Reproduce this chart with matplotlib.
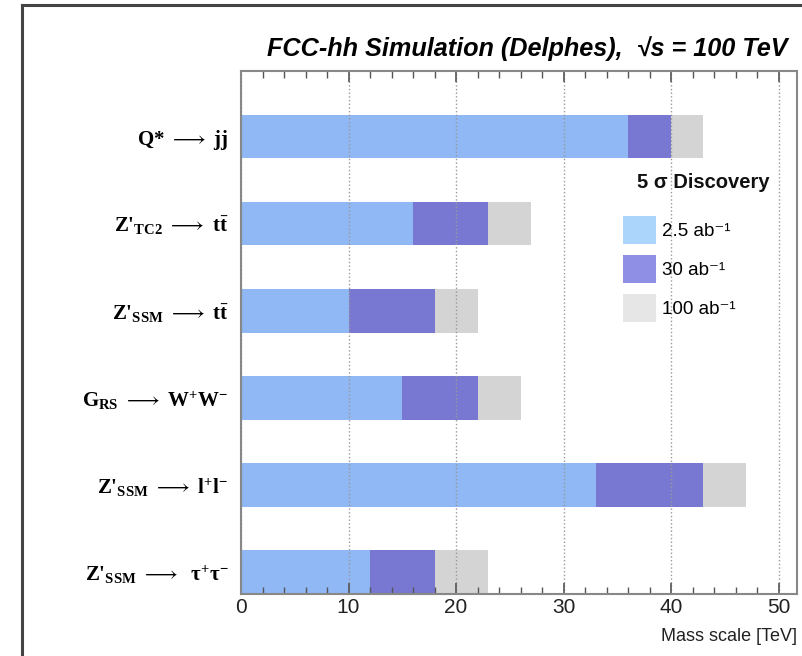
import matplotlib
matplotlib.use("Agg")
import matplotlib.pyplot as plt
from matplotlib.patches import Patch
from matplotlib.lines import Line2D
from matplotlib.ticker import MultipleLocator

plt.rcParams["font.family"] = ["Liberation Sans", "DejaVu Sans"]
plt.rcParams["mathtext.fontset"] = "custom"
plt.rcParams["mathtext.rm"] = "Liberation Serif:bold"
plt.rcParams["mathtext.bf"] = "Liberation Serif:bold"
plt.rcParams["mathtext.it"] = "Liberation Serif:bold"

# channels, top to bottom
channels = [
    r"Q* $\longrightarrow$ jj",
    r"Z'$_{\mathbf{TC2}}$ $\longrightarrow$ t$\mathbf{\bar{t}}$",
    r"Z'$_{\mathbf{SSM}}$ $\longrightarrow$ t$\mathbf{\bar{t}}$",
    r"G$_{\mathbf{RS}}$ $\longrightarrow$ W$^{\mathbf{+}}$W$^{\mathbf{-}}$",
    r"Z'$_{\mathbf{SSM}}$ $\longrightarrow$ l$^{\mathbf{+}}$l$^{\mathbf{-}}$",
    r"Z'$_{\mathbf{SSM}}$ $\longrightarrow$  τ$^{\mathbf{+}}$τ$^{\mathbf{-}}$",
]

# 5 sigma discovery reach [TeV]
reach_2p5 = [36, 16, 10, 15, 33, 12]
reach_30 = [40, 23, 18, 22, 43, 18]
reach_100 = [43, 27, 22, 26, 47, 23]

lumi_labels = ["2.5 ab⁻¹", "30 ab⁻¹", "100 ab⁻¹"]

bar_colors = ["#8fb8f4", "#7878d2", "#d4d4d4"]
legend_colors = ["#acd5fc", "#8f8fe6", "#e6e6e6"]

fig = plt.figure(figsize=(8.03, 6.56), dpi=100)
ax = fig.add_axes([241 / 803, 1 - 594 / 656, 556 / 803, 523 / 656])

ypos = list(range(len(channels) - 1, -1, -1))

ax.barh(ypos, reach_100, height=0.5, color=bar_colors[2], zorder=1)
ax.barh(ypos, reach_30, height=0.5, color=bar_colors[1], zorder=1)
ax.barh(ypos, reach_2p5, height=0.5, color=bar_colors[0], zorder=1)

ax.set_xlim(0, 51.7)
ax.set_ylim(-0.25, 5.75)

ax.set_yticks(ypos)
ax.set_yticklabels(channels, fontsize=15, fontweight="bold",
                   family=["Liberation Serif", "DejaVu Serif"])
ax.tick_params(axis="y", length=0, pad=9)

ax.xaxis.set_major_locator(MultipleLocator(10))
ax.xaxis.set_minor_locator(MultipleLocator(2))
ax.tick_params(axis="x", which="both", direction="in", top=True, color="#555555",
               labelsize=15, labelcolor="#222222", pad=3)
ax.tick_params(axis="x", which="major", length=8, width=1.2)
ax.tick_params(axis="x", which="minor", length=5, width=1.0)

ax.grid(axis="x", which="major", linestyle=":", color="#999999", linewidth=1.0)

for sp in ax.spines.values():
    sp.set_color("#888888")
    sp.set_linewidth(1.5)

ax.set_xlabel("Mass scale [TeV]", loc="right", fontsize=13, color="#222222", labelpad=8)

fig.text(788 / 803, 1 - 49 / 656, "FCC-hh Simulation (Delphes),  √s = 100 TeV",
         ha="right", va="center", fontsize=18.2, fontweight="bold", fontstyle="italic")

handles = [Patch(facecolor=c, edgecolor="none") for c in legend_colors]
leg = ax.legend(handles, lumi_labels, frameon=False,
                loc="upper left", bbox_to_anchor=(610 / 803, 1 - 203 / 656),
                bbox_transform=fig.transFigure, fontsize=13.5,
                handlelength=1.75, handleheight=1.9, handletextpad=0.3,
                labelspacing=0.6, borderpad=0.2)
fig.text(703 / 803, 1 - 182 / 656, "5 σ Discovery", ha="center", va="center",
         fontsize=14.5, fontweight="bold", color="#111111")

# outer frame of the canvas
fig.add_artist(Line2D([22 / 803, 22 / 803], [0, 1 - 5 / 656], transform=fig.transFigure,
                      color="#444444", linewidth=2.2))
fig.add_artist(Line2D([22 / 803, 1], [1 - 5 / 656, 1 - 5 / 656], transform=fig.transFigure,
                      color="#444444", linewidth=2.2))

fig.savefig("out.png", dpi=100)
